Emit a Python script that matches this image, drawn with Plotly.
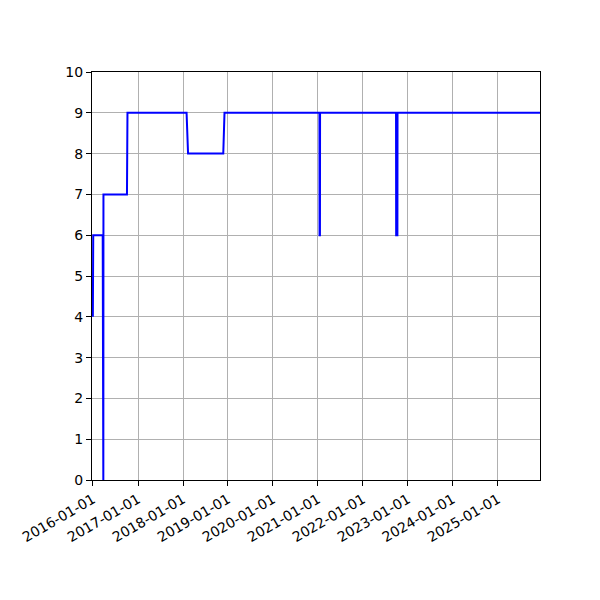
import plotly.graph_objects as go

# readings taken off the chart (dates and step values)
dates = [
    "2015-12-31", "2016-01-03", "2016-03-20", "2016-03-21", "2016-03-25",
    "2016-03-26", "2016-10-03", "2016-10-07", "2018-01-30", "2018-02-11",
    "2018-11-24", "2018-12-04", "2021-01-13", "2021-01-14", "2021-01-17",
    "2021-01-18", "2022-09-27", "2022-09-28", "2022-10-08", "2022-10-09",
    "2025-12-09",
]
values = [4, 6, 6, 0, 0, 7, 7, 9, 9, 8, 8, 9, 9, 6, 6, 9, 9, 6, 6, 9, 9]

tick_dates = [f"{y}-01-01" for y in range(2016, 2026)]
tick_labels = tick_dates
y_ticks = list(range(0, 11))

fig = go.Figure()

fig.add_trace(go.Scatter(
    x=dates,
    y=values,
    mode="lines",
    line=dict(color="#0000ff", width=2),
    showlegend=False,
))

axis_style = dict(
    showline=True,
    linecolor="black",
    linewidth=1,
    mirror=True,
    showgrid=True,
    gridcolor="#b0b0b0",
    gridwidth=1,
    ticks="outside",
    ticklen=5,
    tickwidth=1,
    tickcolor="black",
    zeroline=False,
)

fig.update_xaxes(
    range=["2015-12-24", "2025-12-09"],
    tickvals=tick_dates,
    ticktext=tick_labels,
    tickangle=-30,
    **axis_style,
)
fig.update_yaxes(
    range=[0, 10],
    tickvals=y_ticks,
    **axis_style,
)

# page body adds an 8px offset, so margins are shifted to compensate
fig.update_layout(
    width=600,
    height=600,
    margin=dict(l=82, r=68, t=64, b=128),
    plot_bgcolor="white",
    paper_bgcolor="white",
    font=dict(family="DejaVu Sans", size=14, color="black"),
)

fig.write_html("out.html")
